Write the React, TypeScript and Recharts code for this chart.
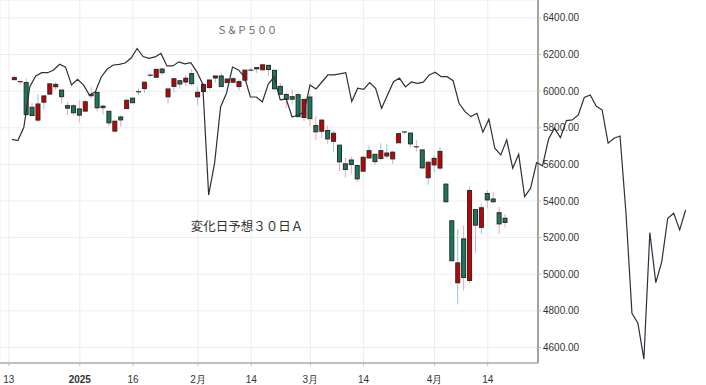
import React from 'react';
import { ComposedChart, LineChart, Bar, Line, XAxis, YAxis, CartesianGrid } from 'recharts';

// x-axis tick positions (trading-day index) and labels
const tickIdx = [0, 12, 21, 32, 41, 51, 60, 72, 81];
const tickLabels = ['13', '2025', '16', '2月', '14', '3月', '14', '4月', '14'];
const priceTicks = [4600, 4800, 5000, 5200, 5400, 5600, 5800, 6000, 6200, 6400];

// S&P500 daily candles, trading-day index 1..84 (Dec 16 .. Apr 17)
const opens = [
  6063, 6052, 6047, 5912, 5842, 5940, 5984, 6024, 6006, 5921,
  5920, 5903, 5891, 5982, 5993, 5910, 5890, 5782, 5859, 5905,
  5962, 5995, 6014, 6081, 6076, 6121, 5969, 6026, 6057, 6050,
  6096, 5969, 5998, 6020, 6072, 6083, 6047, 6049, 6025, 6060,
  6115, 6122, 6117, 6141, 6114, 6026, 5982, 5970, 5981, 5856,
  5968, 5812, 5781, 5785, 5726, 5705, 5603, 5624, 5594, 5563,
  5635, 5655, 5632, 5646, 5630, 5718, 5775, 5771, 5696, 5679,
  5527, 5597, 5580, 5492, 5292, 4953, 5193, 4966, 5353, 5256,
  5441, 5411, 5336, 5306,
];
const highs = [
  6085, 6057, 6070, 5936, 5982, 5978, 6040, 6049, 6006, 5940,
  5929, 5949, 5949, 6022, 6000, 5927, 5891, 5838, 5871, 5960,
  5964, 6014, 6051, 6100, 6119, 6128, 6018, 6070, 6063, 6086,
  6120, 6022, 6042, 6062, 6084, 6101, 6073, 6076, 6063, 6116,
  6127, 6129, 6147, 6143, 6114, 6044, 5992, 6009, 5994, 5959,
  5986, 5865, 5845, 5812, 5783, 5705, 5636, 5642, 5597, 5645,
  5703, 5655, 5715, 5711, 5670, 5775, 5783, 5773, 5732, 5685,
  5615, 5650, 5695, 5500, 5292, 5246, 5267, 5481, 5353, 5381,
  5460, 5450, 5367, 5328,
];
const lows = [
  6059, 6035, 5867, 5866, 5832, 5902, 5983, 6007, 5932, 5869,
  5868, 5829, 5888, 5960, 5890, 5874, 5809, 5774, 5807, 5905,
  5935, 5978, 5990, 6076, 6074, 6088, 5932, 5994, 6012, 6028,
  6030, 5923, 5990, 6007, 6046, 6020, 6044, 6042, 6003, 6051,
  6108, 6099, 6111, 6084, 6008, 5977, 5908, 5932, 5858, 5837,
  5810, 5732, 5743, 5711, 5666, 5564, 5528, 5546, 5505, 5563,
  5632, 5597, 5622, 5632, 5603, 5718, 5764, 5694, 5670, 5572,
  5489, 5558, 5571, 5390, 5069, 4835, 4910, 4950, 5115, 5220,
  5359, 5387, 5220, 5255,
];
const closes = [
  6074, 6051, 5872, 5867, 5930, 5974, 6040, 6037, 5970, 5907,
  5882, 5869, 5942, 5975, 5909, 5918, 5827, 5836, 5843, 5950,
  5937, 5997, 6049, 6087, 6119, 6101, 6012, 6068, 6039, 6071,
  6041, 5994, 6037, 6061, 6083, 6026, 6066, 6068, 6052, 6115,
  6115, 6129, 6144, 6118, 6013, 5983, 5955, 5956, 5861, 5955,
  5850, 5778, 5842, 5739, 5770, 5614, 5572, 5599, 5521, 5639,
  5675, 5615, 5675, 5662, 5667, 5768, 5777, 5712, 5693, 5581,
  5612, 5633, 5671, 5396, 5074, 5062, 4982, 5457, 5268, 5363,
  5406, 5396, 5275, 5283,
];

// 変化日予想30日A line, trading-day index 1..114
const forecast = [
  5737, 5730, 5803, 6025, 6083, 6101, 6101, 6116, 6147, 6131,
  6034, 6065, 6034, 5979, 5997, 6079, 6121, 6143, 6146, 6154,
  6181, 6233, 6189, 6179, 6187, 6206, 6138, 6138, 6160, 6149,
  6156, 6107, 6039, 5433, 5608, 5914, 5990, 6132, 6116, 6078,
  5968, 5968, 5941, 6039, 6078, 5952, 5957, 5859, 5870, 5886,
  6034, 6012, 6050, 6089, 6089, 6094, 6101, 5943, 6016, 6010,
  6047, 6016, 5907, 5979, 6052, 6071, 6023, 6050, 6043, 6049,
  6089, 6103, 6079, 6079, 6057, 5934, 5888, 5861, 5879, 5776,
  5847, 5688, 5652, 5734, 5579, 5655, 5424, 5470, 5610, 5592,
  5737, 5798, 5746, 5839, 5843, 5870, 5965, 5979, 5919, 5897,
  5716, 5743, 5755, 5333, 4787, 4732, 4536, 5227, 4954, 5069,
  5306, 5333, 5242, 5351,
];

const Y_DOMAIN: [number, number] = [4515, 6498];

const candleData: any[] = [];
for (let i = -1; i <= 89; i++) {
  const k = i - 1;
  if (k >= 0 && k < opens.length) {
    candleData.push({
      i,
      open: opens[k],
      high: highs[k],
      low: lows[k],
      close: closes[k],
      range: [lows[k], highs[k]],
    });
  } else {
    candleData.push({ i, range: null });
  }
}

const lineData: any[] = [];
for (let i = -1; i <= 117; i++) {
  const k = i - 1;
  lineData.push({ i, f: k >= 0 && k < forecast.length ? forecast[k] : null });
}

const UP_FILL = '#c40000';
const DOWN_FILL = '#177a5a';
const UP_WICK = '#8fc6da';
const DOWN_WICK = '#f3a3b3';

const Candle = (props: any) => {
  const { x, y, width, height, payload } = props;
  if (!payload || payload.open == null) return null;
  const { open, close, high, low } = payload;
  const top = Math.min(y, y + height);
  const h = Math.abs(height);
  const cx = x + width / 2;
  const span = high - low || 1;
  const py = (v: number) => top + ((high - v) / span) * h;
  const up = close >= open;
  const bTop = py(Math.max(open, close));
  const bBot = py(Math.min(open, close));
  const bh = bBot - bTop;
  return (
    <g>
      <line x1={cx} x2={cx} y1={top} y2={top + h} stroke={up ? UP_WICK : DOWN_WICK} strokeWidth={1} />
      {bh < 1.2 ? (
        <line x1={cx - 2.5} x2={cx + 2.5} y1={bTop} y2={bTop} stroke="#333" strokeWidth={1.2} />
      ) : (
        <rect x={cx - 2} y={bTop} width={4} height={bh} fill={up ? UP_FILL : DOWN_FILL} stroke="#2a2a2a" strokeWidth={1} />
      )}
    </g>
  );
};

const XTick = (props: any) => {
  const { x, y, payload } = props;
  const idx = tickIdx.indexOf(payload.value);
  const label = idx >= 0 ? tickLabels[idx] : '';
  return (
    <text
      x={x}
      y={y}
      dy={15}
      textAnchor="middle"
      fontSize={10}
      fill="#333"
      fontFamily="'Liberation Sans', Arial, sans-serif"
      fontWeight={label === '2025' ? 'bold' : 'normal'}
    >
      {label}
    </text>
  );
};

export default function App() {
  return (
    <div
      style={{
        position: 'absolute',
        left: 0,
        top: 0,
        width: 706,
        height: 385,
        background: '#fff',
        fontFamily: "'Liberation Sans', Arial, sans-serif",
      }}
    >
      <ComposedChart width={706} height={385} data={candleData} margin={{ top: 0, right: 0, bottom: 0, left: 0 }}>
        <CartesianGrid stroke="#ededed" strokeWidth={1} />
        <XAxis
          dataKey="i"
          type="category"
          ticks={tickIdx}
          interval={0}
          height={22}
          tick={<XTick />}
          tickSize={3}
          axisLine={{ stroke: '#888', strokeWidth: 1.2 }}
          tickLine={{ stroke: '#bbb' }}
        />
        <YAxis
          orientation="right"
          width={168}
          domain={Y_DOMAIN}
          allowDataOverflow
          ticks={priceTicks}
          tickFormatter={(v: number) => v.toFixed(2)}
          tick={{ fontSize: 10, fill: '#333', fontFamily: "'Liberation Sans', Arial, sans-serif" }}
          tickSize={3}
          axisLine={{ stroke: '#888', strokeWidth: 1.5 }}
          tickLine={{ stroke: '#bbb' }}
        />
        <Bar dataKey="range" barSize={5} shape={<Candle />} isAnimationActive={false} />
      </ComposedChart>
      <div style={{ position: 'absolute', left: 0, top: 0, pointerEvents: 'none' }}>
        <LineChart width={706} height={385} data={lineData} margin={{ top: 0, right: 2.5, bottom: 22, left: 0 }}>
          <XAxis dataKey="i" type="category" hide />
          <YAxis domain={Y_DOMAIN} allowDataOverflow hide />
          <Line
            type="linear"
            dataKey="f"
            stroke="#2b303b"
            strokeWidth={1.2}
            dot={false}
            activeDot={false}
            connectNulls={false}
            isAnimationActive={false}
          />
        </LineChart>
      </div>
      <div
        style={{
          position: 'absolute',
          left: 0,
          width: 494,
          top: 23,
          textAlign: 'center',
          fontSize: 10,
          color: '#666',
          fontFamily: "'Noto Sans CJK JP', sans-serif",
          lineHeight: '14px',
        }}
      >
        Ｓ＆Ｐ５００
      </div>
      <div
        style={{
          position: 'absolute',
          left: 0,
          width: 494,
          top: 218,
          textAlign: 'center',
          fontSize: 12.5,
          color: '#333',
          fontFamily: "'Noto Sans CJK JP', sans-serif",
          lineHeight: '16px',
        }}
      >
        変化日予想３０日Ａ
      </div>
    </div>
  );
}
